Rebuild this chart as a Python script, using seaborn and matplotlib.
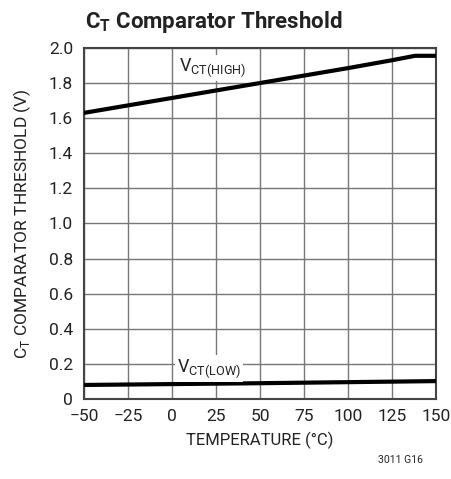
import numpy as np
import pandas as pd
import matplotlib.pyplot as plt
import seaborn as sns

# values
temp_high = [-50, 0, 50, 100, 125, 138, 150]
vct_high = [1.63, 1.715, 1.80, 1.885, 1.93, 1.955, 1.955]
temp_low = [-50, 50, 150]
vct_low = [0.08, 0.09, 0.102]

x_ticks = [-50, -25, 0, 25, 50, 75, 100, 125, 150]
x_labels = ['\u221250', '\u221225', '0', '25', '50', '75', '100', '125', '150']
y_ticks = [0, 0.2, 0.4, 0.6, 0.8, 1.0, 1.2, 1.4, 1.6, 1.8, 2.0]
y_labels = ['0', '0.2', '0.4', '0.6', '0.8', '1.0', '1.2', '1.4', '1.6', '1.8', '2.0']

sns.set_style('white')
plt.rcParams['font.family'] = ['Roboto', 'DejaVu Sans']
plt.rcParams['mathtext.fontset'] = 'custom'
plt.rcParams['mathtext.rm'] = 'Roboto'
plt.rcParams['mathtext.bf'] = 'Roboto:bold'

df_high = pd.DataFrame({'temp': temp_high, 'v': vct_high})
df_low = pd.DataFrame({'temp': temp_low, 'v': vct_low})

fig = plt.figure(figsize=(4.52, 4.79), dpi=100)
ax = fig.add_axes([0.186, 0.167, 0.779, 0.733])

sns.lineplot(data=df_high, x='temp', y='v', ax=ax, color='black', linewidth=3, zorder=3)
sns.lineplot(data=df_low, x='temp', y='v', ax=ax, color='black', linewidth=3, zorder=3)

ax.set_xlim(-50, 150)
ax.set_ylim(0, 2.0)
ax.set_xticks(x_ticks)
ax.set_xticklabels(x_labels)
ax.set_yticks(y_ticks)
ax.set_yticklabels(y_labels)
ax.tick_params(axis='both', labelsize=12.5, length=0, colors='#222222')
ax.tick_params(axis='x', pad=7)
ax.tick_params(axis='y', pad=8)
ax.grid(True, color='#777777', linewidth=1)
for s in ax.spines.values():
    s.set_color('#444444')
    s.set_linewidth(1.5)

ax.set_xlabel('TEMPERATURE (\u00b0C)', fontsize=12, color='#222222', labelpad=6)
ax.set_ylabel('C$_\\mathregular{T}$ COMPARATOR THRESHOLD (V)', fontsize=12.5, color='#222222', labelpad=11)

bbox = dict(facecolor='white', edgecolor='none', pad=1.5)
ax.text(23, 1.885, 'V$_\\mathregular{CT(HIGH)}$', fontsize=13, ha='center', va='center',
        color='#222222', bbox=bbox, zorder=4)
ax.text(21, 0.172, 'V$_\\mathregular{CT(LOW)}$', fontsize=13, ha='center', va='center',
        color='#222222', bbox=bbox, zorder=4)

fig.text(0.188, 0.955, 'C$_\\mathbf{T}$ Comparator Threshold', fontsize=16, fontweight='bold',
         ha='left', va='center', color='#222222')
fig.text(0.935, 0.04, '3011 G16', fontsize=7.5, ha='right', va='center', color='#222222')

fig.savefig('out.png', dpi=100)
